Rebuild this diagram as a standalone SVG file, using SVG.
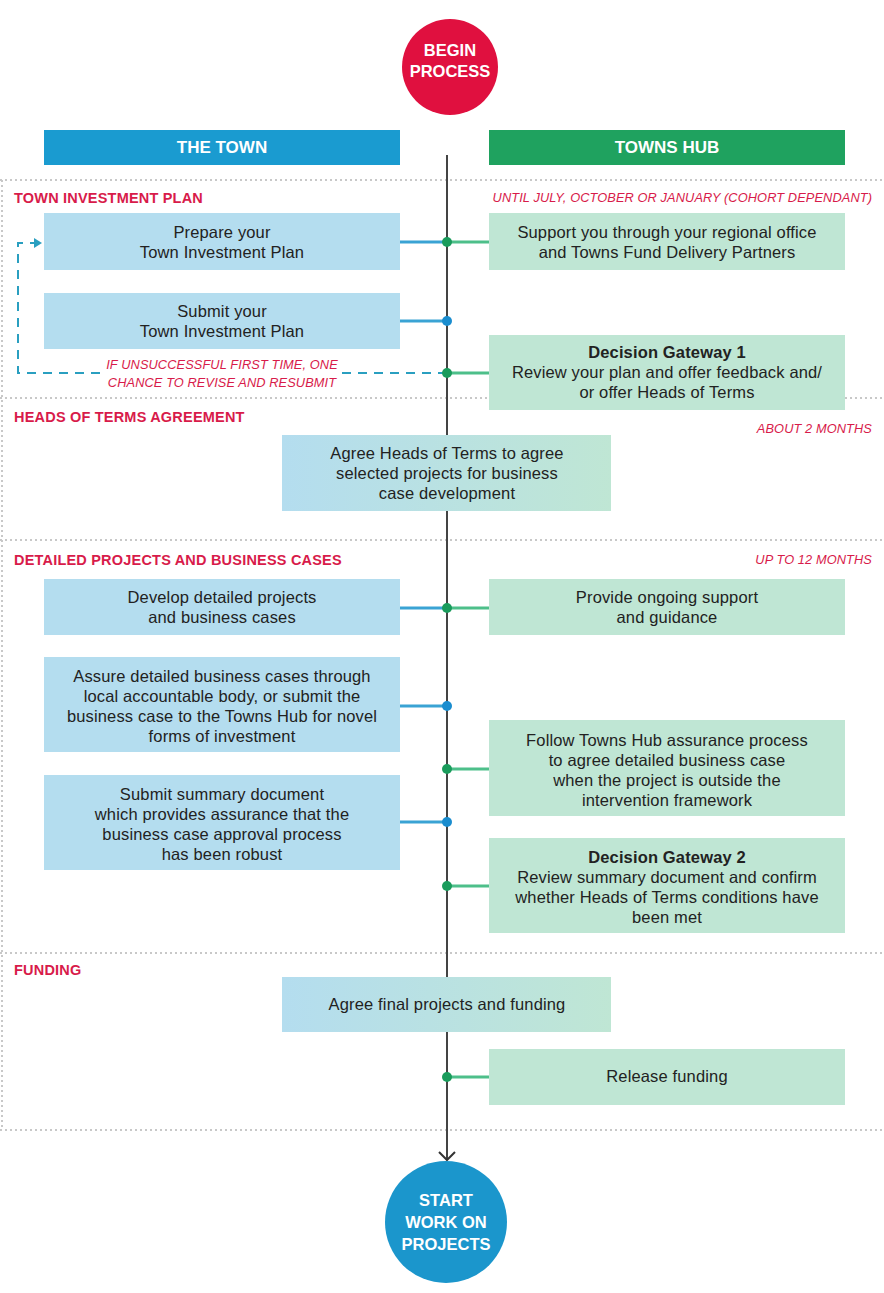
<svg xmlns="http://www.w3.org/2000/svg" width="884" height="1293" viewBox="0 0 884 1293">
<defs>
<style>
.t{font-family:"Liberation Sans",Arial,sans-serif;font-size:16.5px;letter-spacing:0.15px;fill:#222;text-anchor:middle}
.b{font-weight:bold}
.sec{font-family:"Liberation Sans",Arial,sans-serif;font-size:14.5px;letter-spacing:0.2px;font-weight:bold;fill:#d81b4a}
.dur{font-family:"Liberation Sans",Arial,sans-serif;font-size:12.8px;letter-spacing:0.1px;font-style:italic;fill:#d81b4a;text-anchor:end}
.note{font-family:"Liberation Sans",Arial,sans-serif;font-size:12.8px;letter-spacing:0.1px;font-style:italic;fill:#d81b4a;text-anchor:middle}
.hdr{font-family:"Liberation Sans",Arial,sans-serif;font-size:17px;font-weight:bold;fill:#fff;text-anchor:middle}
.circ{font-family:"Liberation Sans",Arial,sans-serif;font-size:16.5px;font-weight:bold;fill:#fff;text-anchor:middle}
.bl{fill:#b4ddef}
.gr{fill:#bfe6d4}
.dot{stroke:#c8c8c8;stroke-width:2;stroke-dasharray:2 3;fill:none}
.lb{stroke:#3aa3d4;stroke-width:3}
.lg{stroke:#4dbf8a;stroke-width:3}
.db{fill:#1a8dcf}
.dg{fill:#1a9c5c}
</style>
<linearGradient id="bg" x1="0" y1="0" x2="1" y2="0">
<stop offset="0" stop-color="#b4ddef"/>
<stop offset="1" stop-color="#bfe6d4"/>
</linearGradient>
<marker id="ah" markerWidth="10" markerHeight="10" refX="8" refY="5" orient="auto" markerUnits="userSpaceOnUse">
<path d="M0,0 L8,5 L0,10 Z" fill="#2a9fc0"/>
</marker>
<marker id="av" markerWidth="14" markerHeight="18" refX="10" refY="9" orient="auto" markerUnits="userSpaceOnUse">
<path d="M2,1 L10,9 L2,17" fill="none" stroke="#333" stroke-width="2"/>
</marker>
</defs>

<!-- section frames -->
<g id="sections">
<line class="dot" x1="0" y1="180" x2="884" y2="180"/>
<line class="dot" x1="0" y1="398" x2="884" y2="398"/>
<line class="dot" x1="0" y1="540" x2="884" y2="540"/>
<line class="dot" x1="0" y1="953" x2="884" y2="953"/>
<line class="dot" x1="0" y1="1130" x2="884" y2="1130"/>
<line class="dot" x1="2" y1="180" x2="2" y2="1130"/>
<text class="sec" x="14" y="203">TOWN INVESTMENT PLAN</text>
<text class="dur" x="872" y="202">UNTIL JULY, OCTOBER OR JANUARY (COHORT DEPENDANT)</text>
<text class="sec" x="14" y="422">HEADS OF TERMS AGREEMENT</text>
<text class="dur" x="872" y="433">ABOUT 2 MONTHS</text>
<text class="sec" x="14" y="565">DETAILED PROJECTS AND BUSINESS CASES</text>
<text class="dur" x="872" y="564">UP TO 12 MONTHS</text>
<text class="sec" x="14" y="975">FUNDING</text>
</g>

<!-- headers -->
<g id="hdr-town"><rect x="44" y="130" width="356" height="35" fill="#1a9bd0"/><text class="hdr" x="222" y="153">THE TOWN</text></g>
<g id="hdr-hub"><rect x="489" y="130" width="356" height="35" fill="#1fa25f"/><text class="hdr" x="667" y="153">TOWNS HUB</text></g>

<!-- connectors -->
<g id="connectors">
<line x1="447" y1="155" x2="447" y2="1160" stroke="#444" stroke-width="2" marker-end="url(#av)"/>
<line class="lb" x1="400" y1="242" x2="447" y2="242"/>
<line class="lg" x1="447" y1="242" x2="489" y2="242"/>
<line class="lb" x1="400" y1="321" x2="447" y2="321"/>
<line class="lg" x1="447" y1="373" x2="489" y2="373"/>
<line class="lb" x1="400" y1="608" x2="447" y2="608"/>
<line class="lg" x1="447" y1="608" x2="489" y2="608"/>
<line class="lb" x1="400" y1="706" x2="447" y2="706"/>
<line class="lg" x1="447" y1="769" x2="489" y2="769"/>
<line class="lb" x1="400" y1="822" x2="447" y2="822"/>
<line class="lg" x1="447" y1="886" x2="489" y2="886"/>
<line class="lg" x1="447" y1="1077" x2="489" y2="1077"/>
<polyline points="447,373 342,373" fill="none" stroke="#2a9fc0" stroke-width="2" stroke-dasharray="9 7"/>
<polyline points="100,373 18,373 18,243 42,243" fill="none" stroke="#2a9fc0" stroke-width="2" stroke-dasharray="9 7" marker-end="url(#ah)"/>
<text class="note" x="222" y="369">IF UNSUCCESSFUL FIRST TIME, ONE</text>
<text class="note" x="222" y="387">CHANCE TO REVISE AND RESUBMIT</text>
<circle class="dg" cx="447" cy="242" r="5" fill="#1a9490"/>
<circle class="db" cx="447" cy="321" r="5"/>
<circle class="dg" cx="447" cy="373" r="5"/>
<circle class="dg" cx="447" cy="608" r="5"/>
<circle class="db" cx="447" cy="706" r="5"/>
<circle class="dg" cx="447" cy="769" r="5"/>
<circle class="db" cx="447" cy="822" r="5"/>
<circle class="dg" cx="447" cy="886" r="5"/>
<circle class="dg" cx="447" cy="1077" r="5"/>
</g>

<g id="begin"><circle cx="450" cy="67" r="48" fill="#e0103f"/><text class="circ" x="450" y="56">BEGIN</text><text class="circ" x="450" y="77">PROCESS</text></g>

<g id="prepare"><rect class="bl" x="44" y="213" width="356" height="57"/><text class="t" x="222" y="238">Prepare your</text><text class="t" x="222" y="258">Town Investment Plan</text></g>
<g id="support"><rect class="gr" x="489" y="213" width="356" height="57"/><text class="t" x="667" y="238">Support you through your regional office</text><text class="t" x="667" y="258">and Towns Fund Delivery Partners</text></g>
<g id="submit"><rect class="bl" x="44" y="293" width="356" height="56"/><text class="t" x="222" y="317">Submit your</text><text class="t" x="222" y="337">Town Investment Plan</text></g>
<g id="gateway1"><rect class="gr" x="489" y="335" width="356" height="75"/><text class="t b" x="667" y="358">Decision Gateway 1</text><text class="t" x="667" y="378">Review your plan and offer feedback and/</text><text class="t" x="667" y="398">or offer Heads of Terms</text></g>

<g id="heads"><rect x="282" y="435" width="329" height="76" fill="url(#bg)"/><text class="t" x="447" y="459">Agree Heads of Terms to agree</text><text class="t" x="447" y="479">selected projects for business</text><text class="t" x="447" y="499">case development</text></g>

<g id="develop"><rect class="bl" x="44" y="579" width="356" height="56"/><text class="t" x="222" y="603">Develop detailed projects</text><text class="t" x="222" y="623">and business cases</text></g>
<g id="provide"><rect class="gr" x="489" y="579" width="356" height="56"/><text class="t" x="667" y="603">Provide ongoing support</text><text class="t" x="667" y="623">and guidance</text></g>
<g id="assure"><rect class="bl" x="44" y="657" width="356" height="95"/><text class="t" x="222" y="682">Assure detailed business cases through</text><text class="t" x="222" y="702">local accountable body, or submit the</text><text class="t" x="222" y="722">business case to the Towns Hub for novel</text><text class="t" x="222" y="742">forms of investment</text></g>
<g id="follow"><rect class="gr" x="489" y="720" width="356" height="96"/><text class="t" x="667" y="746">Follow Towns Hub assurance process</text><text class="t" x="667" y="766">to agree detailed business case</text><text class="t" x="667" y="786">when the project is outside the</text><text class="t" x="667" y="806">intervention framework</text></g>
<g id="summary"><rect class="bl" x="44" y="775" width="356" height="95"/><text class="t" x="222" y="800">Submit summary document</text><text class="t" x="222" y="820">which provides assurance that the</text><text class="t" x="222" y="840">business case approval process</text><text class="t" x="222" y="860">has been robust</text></g>
<g id="gateway2"><rect class="gr" x="489" y="838" width="356" height="95"/><text class="t b" x="667" y="863">Decision Gateway 2</text><text class="t" x="667" y="883">Review summary document and confirm</text><text class="t" x="667" y="903">whether Heads of Terms conditions have</text><text class="t" x="667" y="923">been met</text></g>

<g id="final"><rect x="282" y="977" width="329" height="55" fill="url(#bg)"/><text class="t" x="447" y="1010">Agree final projects and funding</text></g>
<g id="release"><rect class="gr" x="489" y="1049" width="356" height="56"/><text class="t" x="667" y="1082">Release funding</text></g>

<g id="start"><circle cx="446" cy="1222" r="61" fill="#1b96cc"/><text class="circ" x="446" y="1206">START</text><text class="circ" x="446" y="1228">WORK ON</text><text class="circ" x="446" y="1250">PROJECTS</text></g>
</svg>
